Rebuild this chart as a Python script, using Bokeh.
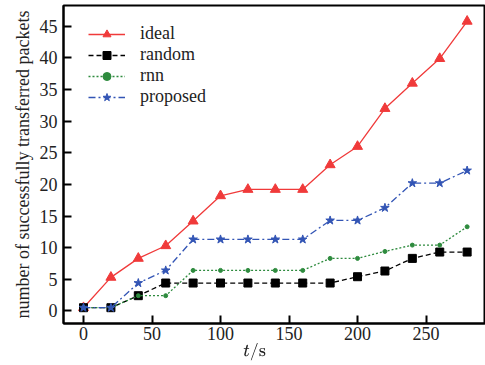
from bokeh.plotting import figure
from bokeh.models import Range1d, FixedTicker, Legend, LegendItem
from bokeh.embed import file_html
from bokeh.resources import INLINE

t = [0, 20, 40, 60, 80, 100, 120, 140, 160, 180, 200, 220, 240, 260, 280]
ideal = [0.5, 5.3, 8.3, 10.3, 14.2, 18.2, 19.2, 19.2, 19.2, 23.1, 26.0, 32.0, 36.0, 39.9, 45.8]
random_ = [0.5, 0.5, 2.4, 4.4, 4.4, 4.4, 4.4, 4.4, 4.4, 4.4, 5.4, 6.3, 8.3, 9.3, 9.3]
rnn = [0.5, 0.5, 2.4, 2.4, 6.4, 6.4, 6.4, 6.4, 6.4, 8.3, 8.3, 9.4, 10.4, 10.4, 13.3]
proposed = [0.5, 0.5, 4.4, 6.4, 11.3, 11.3, 11.3, 11.3, 11.3, 14.3, 14.3, 16.3, 20.2, 20.2, 22.2]
x_ticks = [0, 50, 100, 150, 200, 250]
y_ticks = [0, 5, 10, 15, 20, 25, 30, 35, 40, 45]

FONT = "Liberation Serif"
TXT = "#222222"

p = figure(width=485, height=365, output_backend="svg", toolbar_location=None,
           x_range=Range1d(-14.6, 293.4), y_range=Range1d(-2.0, 48.3),
           min_border_left=63, min_border_right=0, min_border_top=5, min_border_bottom=42)
p.grid.visible = False
p.outline_line_color = "black"
p.outline_line_width = 2

for ax in (p.xaxis[0], p.yaxis[0]):
    ax.axis_line_width = 2
    ax.axis_line_color = "black"
    ax.major_tick_in = 8
    ax.major_tick_out = 0
    ax.major_tick_line_width = 2
    ax.minor_tick_line_color = None
    ax.major_label_text_font = FONT
    ax.major_label_text_font_size = "18px"
    ax.major_label_text_color = TXT
    ax.axis_label_text_font = FONT
    ax.axis_label_text_font_style = "normal"
    ax.axis_label_text_color = TXT

p.xaxis.ticker = FixedTicker(ticks=x_ticks)
p.yaxis.ticker = FixedTicker(ticks=y_ticks)
p.xaxis.major_label_standoff = 3
p.yaxis.major_label_standoff = 6
p.yaxis.axis_label = "number of successfully transferred packets"
p.yaxis.axis_label_text_font_size = "18px"
p.yaxis.axis_label_standoff = 4
p.xaxis.axis_label = r"$$t/\mathrm{s}\hspace{2.2em}$$"
p.xaxis.axis_label_text_font_size = "17px"
p.xaxis.axis_label_standoff = 0

r1l = p.line(t, ideal, line_color="#f03a3a", line_width=1.3)
r1m = p.scatter(t, ideal, marker="triangle", size=10, fill_color="#f03a3a", line_color="#f03a3a")
r2l = p.line(t, random_, line_color="black", line_width=1.3, line_dash="5 3")
r2m = p.scatter(t, random_, marker="square", size=8, fill_color="black", line_color="black")
r3l = p.line(t, rnn, line_color="#2e8b3e", line_width=1.3, line_dash="2 2")
r3m = p.scatter(t, rnn, marker="circle", size=4, fill_color="#2e8b3e", line_color="#2e8b3e")
r4l = p.line(t, proposed, line_color="#3355b5", line_width=1.3, line_dash="7 3 2 3")
r4m = p.scatter(t, proposed, marker="star", size=9, fill_color="#3355b5", line_color="#3355b5")

legend = Legend(items=[
    LegendItem(label="ideal", renderers=[r1l, r1m]),
    LegendItem(label="random", renderers=[r2l, r2m]),
    LegendItem(label="rnn", renderers=[r3l, r3m]),
    LegendItem(label="proposed", renderers=[r4l, r4m]),
], location=(25, 216), margin=0, padding=0, spacing=-3,
   glyph_width=37, glyph_height=20, label_standoff=15,
   label_text_font=FONT, label_text_font_size="18px", label_text_color=TXT,
   border_line_color=None, background_fill_alpha=0)
p.add_layout(legend)

open("out.html", "w").write(file_html(p, INLINE))
